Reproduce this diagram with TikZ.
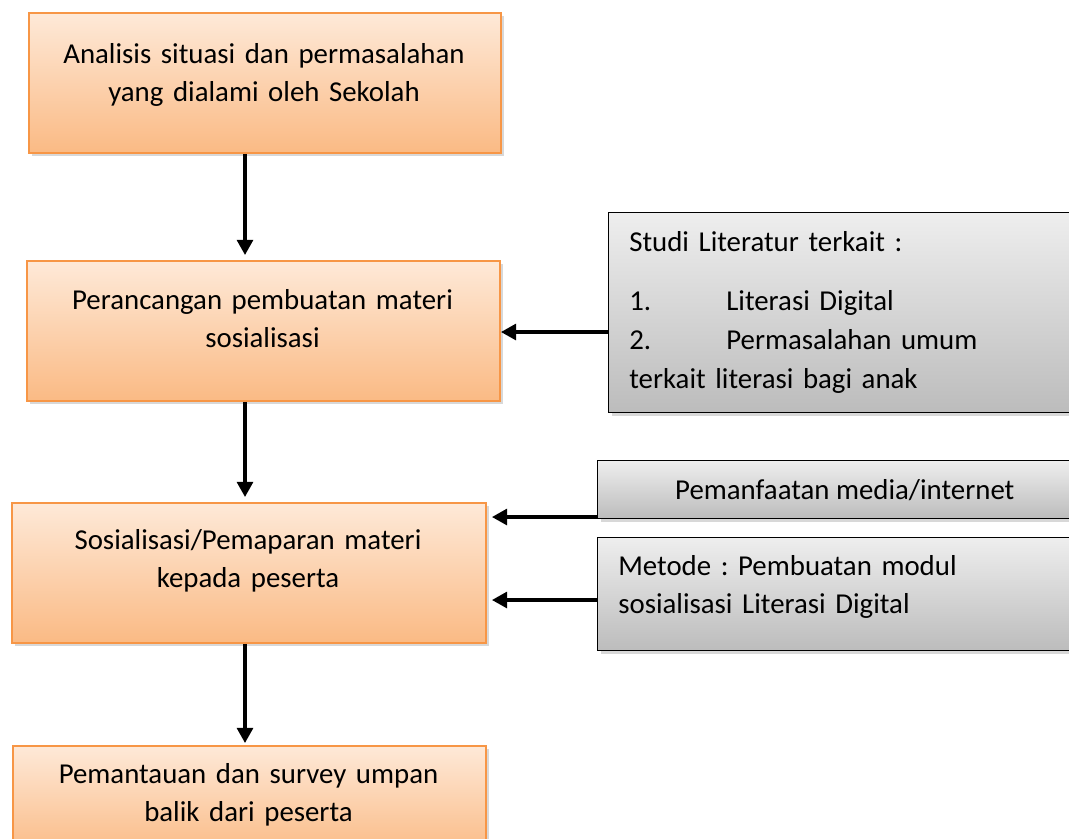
\documentclass[tikz,border=0pt]{standalone}
\usepackage{fontspec}
\setmainfont{Carlito}
\usepackage{xcolor}
\usepackage{tikz}
\usetikzlibrary{arrows.meta, positioning, shadows}
\frenchspacing

\definecolor{orangeline}{RGB}{247,150,70}
\definecolor{orangetop}{RGB}{254,233,216}
\definecolor{orangebot}{RGB}{250,186,132}
\definecolor{graytop}{RGB}{238,238,238}
\definecolor{graybot}{RGB}{188,188,188}

\begin{document}
\begin{tikzpicture}[
  x=0.025cm, y=-0.025cm,
  orangebox/.style={draw=orangeline, line width=1.3pt, top color=orangetop, bottom color=orangebot,
    anchor=north west, inner sep=0pt, drop shadow={shadow xshift=2pt, shadow yshift=-2.5pt, opacity=0.3}},
  graybox/.style={draw=black, line width=1pt, top color=graytop, bottom color=graybot,
    anchor=north west, inner sep=0pt, drop shadow={shadow xshift=2pt, shadow yshift=-2.5pt, opacity=0.3}},
  boxtext/.style={font=\fontsize{20.5}{27.7}\selectfont, inner sep=0pt, text width=11cm, align=center, anchor=base},
  sidetext/.style={font=\fontsize{20.5}{27.7}\selectfont, inner sep=0pt, text width=11cm, align=left, anchor=base west},
  flow/.style={line width=2.3pt, -{Triangle[width=0.4cm, length=0.38cm]}},
]
\path[use as bounding box, fill=white] (0,0) rectangle (1069,838);
\clip (0,0) rectangle (1069,838);

% main flow
\node[orangebox, minimum width=11.8cm, minimum height=3.5cm] (b1) at (28,12) {};
\node[orangebox, minimum width=11.825cm, minimum height=3.5cm] (b2) at (26,260) {};
\node[orangebox, minimum width=11.85cm, minimum height=3.5cm] (b3) at (11,502) {};
\node[orangebox, minimum width=11.825cm, minimum height=2.75cm] (b4) at (12,745) {};

\node[boxtext] (t1) at (264,63) {Analisis situasi dan permasalahan\\yang dialami oleh Sekolah};
\node[boxtext] (t2) at (262.5,309) {Perancangan pembuatan materi\\sosialisasi};
\node[boxtext] (t3) at (248,549) {Sosialisasi/Pemaparan materi\\kepada peserta};
\node[boxtext] (t4) at (248.5,783) {Pemantauan dan survey umpan\\balik dari peserta};

% side inputs
\node[graybox, minimum width=12.075cm, minimum height=5cm] (s1) at (608,212) {};
\node[graybox, minimum width=12.35cm, minimum height=1.45cm, font=\fontsize{20.5}{27.7}\selectfont] (s2) at (597,460) {Pemanfaatan media/internet};
\node[graybox, minimum width=12.35cm, minimum height=2.825cm] (s3) at (597,537) {};

\node[sidetext] (s1t) at (629,251) {Studi Literatur terkait :\\[0.525cm]
  \makebox[2.425cm][l]{1.}Literasi Digital\\
  \makebox[2.425cm][l]{2.}Permasalahan umum\\
  terkait literasi bagi anak};
\node[sidetext] (s3t) at (618,575) {Metode : Pembuatan modul\\sosialisasi Literasi Digital};

% connectors
\coordinate (ax) at (245,0);
\draw[flow, shorten >=0.125cm] (ax |- b1.south) -- (ax |- b2.north);
\draw[flow, shorten >=0.125cm] (ax |- b2.south) -- (ax |- b3.north);
\draw[flow, shorten >=0.05cm] (ax |- b3.south) -- (ax |- b4.north);

\draw[flow] (s1.west |- 0,332) -- (b2.east |- 0,332);
\draw[flow, shorten >=0.125cm] (s2.west |- 0,517) -- (b3.east |- 0,517);
\draw[flow, shorten >=0.125cm] (s3.west |- 0,600) -- (b3.east |- 0,600);
\end{tikzpicture}
\end{document}
